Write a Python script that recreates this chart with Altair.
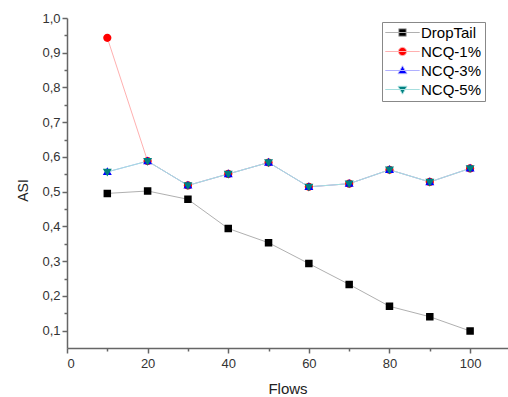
import altair as alt
import pandas as pd

flows = [10, 20, 30, 40, 50, 60, 70, 80, 90, 100]
droptail = [0.495, 0.502, 0.478, 0.394, 0.353, 0.293, 0.233, 0.170, 0.140, 0.099]
ncq1 = [0.943, 0.588, 0.518, 0.551, 0.584, 0.514, 0.523, 0.563, 0.528, 0.567]
ncq3 = [0.557, 0.588, 0.518, 0.551, 0.584, 0.514, 0.523, 0.563, 0.528, 0.567]
ncq5 = [0.557, 0.588, 0.518, 0.551, 0.584, 0.514, 0.523, 0.563, 0.528, 0.567]

series_names = ["DropTail", "NCQ-1%", "NCQ-3%", "NCQ-5%"]
line_colors = ["#b0b0b0", "#ffb0b0", "#b0b0ff", "#a6dede"]
marker_colors = ["#000000", "#ff0000", "#0000ff", "#008080"]

x_major = [0, 20, 40, 60, 80, 100]
x_minor = [10, 30, 50, 70, 90]
y_major = [0.1, 0.2, 0.3, 0.4, 0.5, 0.6, 0.7, 0.8, 0.9, 1.0]
y_minor = [0.15, 0.25, 0.35, 0.45, 0.55, 0.65, 0.75, 0.85, 0.95]

seg = "M-4.6,0H4.6"
shapes = [
    seg + "M-1,-1H1V1H-1Z",
    seg + "M-1.1,0A1.1,1.1,0,1,1,1.1,0A1.1,1.1,0,1,1,-1.1,0Z",
    seg + "M0,-1.25L1.2,0.85H-1.2Z",
    seg + "M0,1.25L1.2,-0.85H-1.2Z",
]

rows = []
for name, vals in zip(series_names, [droptail, ncq1, ncq3, ncq5]):
    for i, (f, v) in enumerate(zip(flows, vals)):
        rows.append({"series": name, "flow": f, "asi": v, "ord": i})
df = pd.DataFrame(rows)

FONT = "Liberation Sans"
xscale = alt.Scale(domain=[0, 109.4], nice=False, zero=False)
yscale = alt.Scale(domain=[0.05, 1.0], nice=False, zero=False)

legend = alt.Legend(
    orient="none", legendX=315, legendY=4, title=None,
    fillColor="white", strokeColor="#888888", padding=3, cornerRadius=0,
    labelFont=FONT, labelFontSize=15, labelColor="#000000",
    symbolSize=56, symbolStrokeWidth=1, symbolOffset=10, labelOffset=11,
    rowPadding=3,
)

axis_common = dict(
    labelFont=FONT, labelFontSize=13, labelColor="#333333",
    titleFont=FONT, titleColor="#222222", titleFontWeight="normal",
    domainColor="#666666", domainWidth=1.5, tickColor="#666666", tickWidth=1.5,
    grid=False,
)

x_axis = alt.Axis(values=x_major, title="Flows", tickSize=5, labelPadding=4,
                  titleFontSize=15, titleX=220.5, titleY=40, titleBaseline="middle",
                  orient="bottom", **axis_common)
y_axis = alt.Axis(values=y_major, title="ASI", tickSize=5, labelPadding=2,
                  labelExpr="replace(format(datum.value, '.1f'), '.', ',')",
                  titleFontSize=14, titleX=-44, titleY=172, titleAngle=270,
                  titleBaseline="middle", titleAlign="center",
                  orient="left", **axis_common)

lines = alt.Chart(df).mark_line(strokeWidth=1).encode(
    x=alt.X("flow:Q", scale=xscale, axis=x_axis),
    y=alt.Y("asi:Q", scale=yscale, axis=y_axis),
    stroke=alt.Stroke("series:N", scale=alt.Scale(domain=series_names, range=line_colors), legend=legend),
    detail="series:N",
    order="ord:Q",
)

points = alt.Chart(df).mark_point(filled=True, opacity=1, size=56).encode(
    x=alt.X("flow:Q", scale=xscale, axis=None),
    y=alt.Y("asi:Q", scale=yscale, axis=None),
    fill=alt.Fill("series:N", scale=alt.Scale(domain=series_names, range=marker_colors), legend=legend),
    shape=alt.Shape("series:N", scale=alt.Scale(domain=series_names, range=shapes), legend=legend),
)

minor = alt.Chart(df).mark_point(opacity=0).encode(
    x=alt.X("flow:Q", scale=xscale,
            axis=alt.Axis(values=x_minor, labels=False, tickSize=3, domain=False, title=None,
                          orient="bottom", tickColor="#666666", tickWidth=1.5, grid=False)),
    y=alt.Y("asi:Q", scale=yscale,
            axis=alt.Axis(values=y_minor, labels=False, tickSize=3, domain=False, title=None,
                          orient="left", tickColor="#666666", tickWidth=1.5, grid=False)),
)

chart = alt.layer(lines, points, minor).resolve_axis(
    x="independent", y="independent"
).properties(
    width=441, height=330,
    padding={"left": 67, "top": 18, "right": 0, "bottom": 49},
    autosize=alt.AutoSizeParams(type="none"),
    background="white",
).configure_view(stroke=None)

chart.save("out.html", embed_options={"renderer": "svg", "actions": False})
